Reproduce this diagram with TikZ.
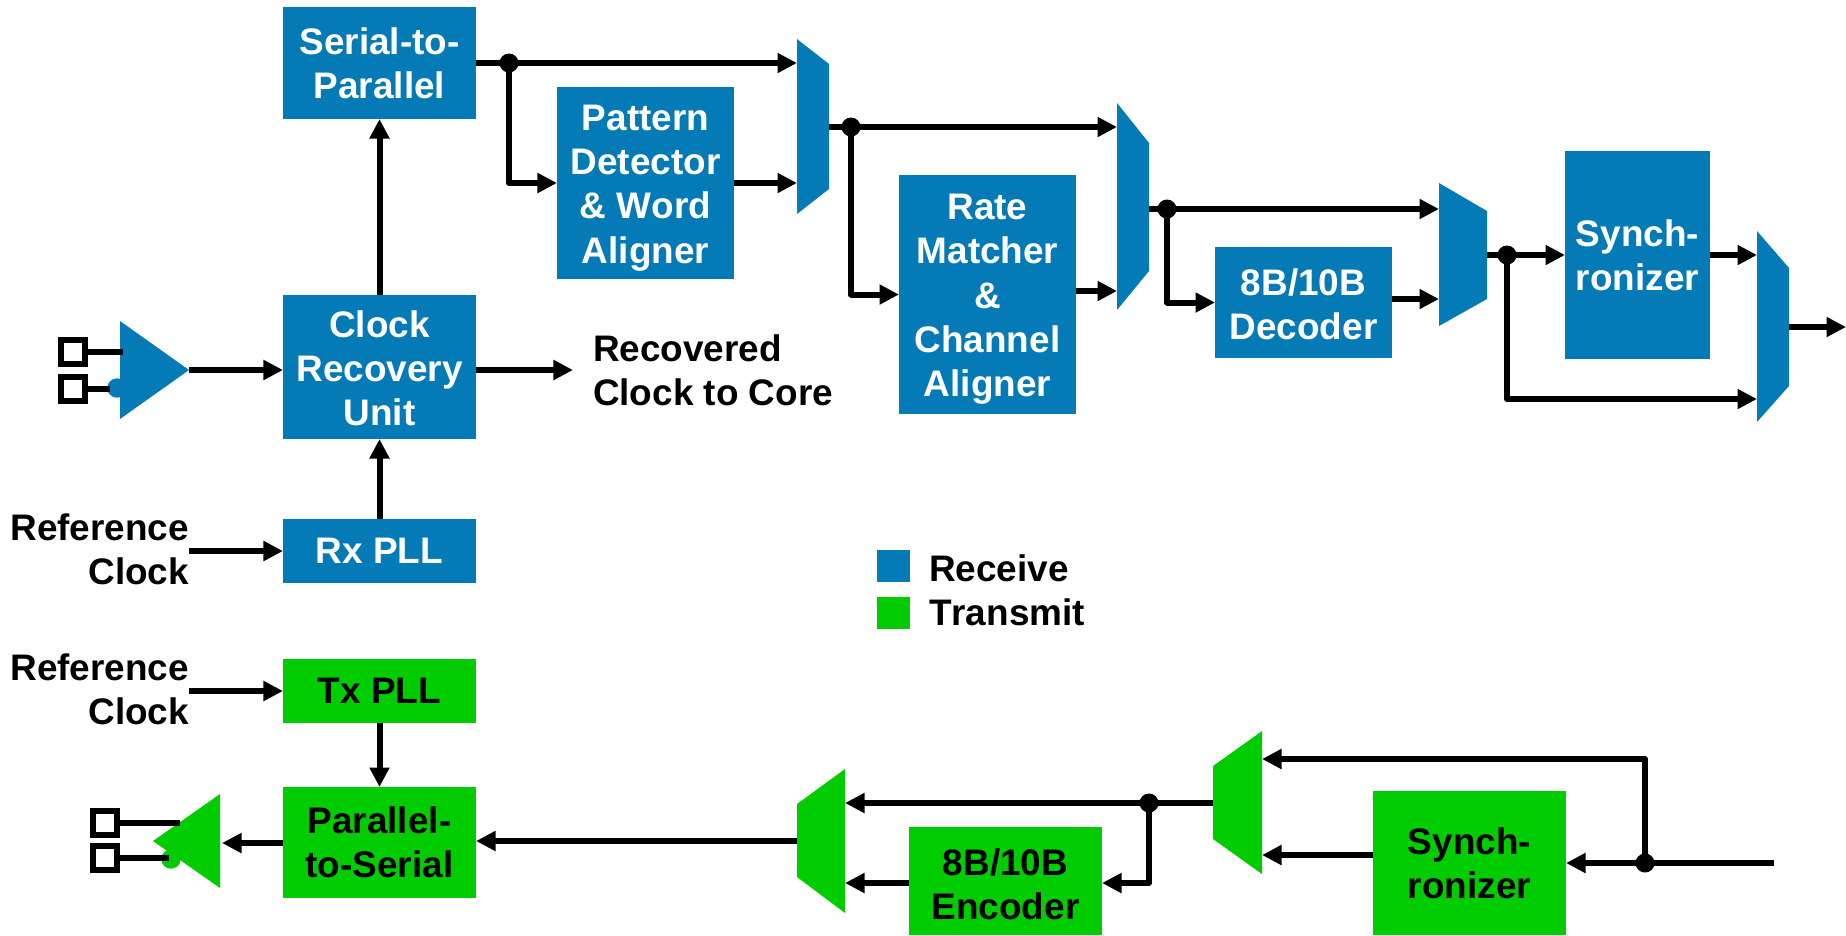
\documentclass[tikz,border=0pt]{standalone}
\usepackage{fontspec}
\setmainfont[Kerning=Off]{Liberation Sans}
\usetikzlibrary{arrows.meta}

\definecolor{rxblue}{HTML}{047AB6}
\definecolor{txgreen}{HTML}{00CC00}

\begin{document}
\begin{tikzpicture}[x=0.01cm,y=-0.01cm]
    \tikzset{boxsize/.style 2 args = {minimum width=#1*0.01cm,
        minimum height=#2*0.01cm},
      block/.style   = {inner sep=0pt, outer sep=0pt, align=center,
        font=\fontsize{10.5}{12.6}\selectfont\bfseries},
      rxbox/.style   = {block, fill=rxblue, text=white},
      txbox/.style   = {block, fill=txgreen, text=black},
      label/.style   = {block, text=black},
      wire/.style    = {line width=0.06cm, line join=round},
      sig/.style     = {wire, -{Triangle[length=0.195cm,width=0.19cm]}},
      dot/.style     = {circle, fill=black, inner sep=0pt, outer sep=0pt,
        minimum size=0.19cm},
      pad/.style     = {draw=black, fill=white, line width=0.06cm, inner sep=0pt,
        outer sep=0pt, minimum size=0.24cm}}

    \def\Lx{379.5};
    \def\Lw{193};
    % Taller first line, to lower the text in its block.
    \def\Drop#1{\rule{0pt}{#1pt}}

    \useasboundingbox (0,0) rectangle (1846,935);

    % Receive blocks.
    \node (serial)  [rxbox, boxsize={\Lw}{112}] at (\Lx,63)    {Serial-to-\\Parallel};
    \node (pattern) [rxbox, boxsize={177}{192}] at (645.5,183) {\Drop{10}Pattern\\Detector\\\& Word\\Aligner};
    \node (rate)    [rxbox, boxsize={177}{239}] at (987.5,294.5) {\Drop{10}Rate\\Matcher\\\&\\Channel\\Aligner};
    \node (decoder) [rxbox, boxsize={177}{111}] at (1303.5,302.5) {\Drop{8.8}8B/10B\\Decoder};
    \node (rxsync)  [rxbox, boxsize={145}{208}] at (1637.5,255)  {Synch-\\ronizer};
    \node (clock)   [rxbox, boxsize={\Lw}{144}] at (\Lx,367)   {\Drop{8.3}Clock\\Recovery\\Unit};
    \node (rxpll)   [rxbox, boxsize={\Lw}{64}]  at (\Lx,551)   {Rx PLL};

    % Transmit blocks.
    \node (txpll)    [txbox, boxsize={\Lw}{64}]  at (\Lx,691)   {Tx PLL};
    \node (parallel) [txbox, boxsize={\Lw}{111}] at (\Lx,842.5) {Parallel-\\to-Serial};
    \node (encoder)  [txbox, boxsize={193}{108}] at (1005.5,881) {\Drop{9.4}8B/10B\\Encoder};
    \node (txsync)   [txbox, boxsize={193}{144}] at (1469.5,863) {Synch-\\ronizer};

    % Text beside the blocks.
    \node (rcvtext) [label, anchor=west, align=left]  at (593,370) {Recovered\\Clock to Core};
    \node (rxref)   [label, anchor=east, align=right] at (189,549) {Reference\\Clock};
    \node (txref)   [label, anchor=east, align=right] at (189,689) {Reference\\Clock};

    % Legend.
    \node (rxkey)  [fill=rxblue, boxsize={33}{32}]   at (893.5,566) {};
    \node (txkey)  [fill=txgreen, boxsize={33}{32}]  at (893.5,613) {};
    \node (rxname) [label, anchor=west] at (929,568) {Receive};
    \node (txname) [label, anchor=west] at (929,612) {Transmit};

    % Muxes.
    \fill[rxblue] (797,39) -- (829,64) -- (829,189) -- (797,214) -- cycle;
    \fill[rxblue] (1117,103) -- (1149,143) -- (1149,271) -- (1117,310) -- cycle;
    \fill[rxblue] (1439,183) -- (1487,211) -- (1487,299) -- (1439,326) -- cycle;
    \fill[rxblue] (1757,231) -- (1789,268) -- (1789,386) -- (1757,422) -- cycle;
    \fill[txgreen] (797,804) -- (845,769) -- (845,913) -- (797,877) -- cycle;
    \fill[txgreen] (1213,766) -- (1262,731) -- (1262,874) -- (1213,839) -- cycle;

    % Amplifiers.
    \fill[rxblue] (120,321) -- (189,370) -- (120,419) -- cycle;
    \fill[rxblue] (117,388) circle (9.7);
    \fill[txgreen] (153,841) -- (220,794) -- (220,888) -- cycle;
    \fill[txgreen] (171,859) circle (9.7);

    % Mux and amplifier ports.
    \coordinate (muxAa) at (797,63);
    \coordinate (muxAb) at (797,183);
    \coordinate (muxAo) at (829,127);
    \coordinate (muxBa) at (1117,127);
    \coordinate (muxBb) at (1117,291);
    \coordinate (muxBo) at (1149,209);
    \coordinate (muxCa) at (1439,209);
    \coordinate (muxCb) at (1439,299);
    \coordinate (muxCo) at (1487,255);
    \coordinate (muxDa) at (1757,255);
    \coordinate (muxDb) at (1757,399);
    \coordinate (muxDo) at (1789,327);
    \coordinate (muxEa) at (845,803);
    \coordinate (muxEb) at (845,883);
    \coordinate (muxEo) at (797,841);
    \coordinate (muxFa) at (1262,759);
    \coordinate (muxFb) at (1262,855);
    \coordinate (muxFo) at (1213,803);
    \coordinate (rxamp) at (189,370);
    \coordinate (txamp) at (222,843);
    \coordinate (rcvtip) at (573,370);
    \coordinate (rxout) at (1846,327);
    \coordinate (txin) at (1774,863);

    % Branch points.
    \node (dotA) [dot] at (509,63)   {};
    \node (dotB) [dot] at (851,127)  {};
    \node (dotC) [dot] at (1167,209) {};
    \node (dotD) [dot] at (1507,255) {};
    \node (dotE) [dot] at (1149,803) {};
    \node (dotF) [dot] at (1645,863) {};

    % Receive path.
    \draw[sig] (serial.east) -- (muxAa);
    \draw[sig] (dotA.center) |- (pattern);
    \draw[sig] (pattern) -- (muxAb);
    \draw[wire] (muxAo) -- (dotB.center);
    \draw[sig] (dotB.center) -- (muxBa);
    \draw[sig] (dotB.center) |- (rate);
    \draw[sig] (rate.east |- muxBb) -- (muxBb);
    \draw[wire] (muxBo) -- (dotC.center);
    \draw[sig] (dotC.center) -- (muxCa);
    \draw[sig] (dotC.center) |- (decoder);
    \draw[sig] (decoder.east |- muxCb) -- (muxCb);
    \draw[wire] (muxCo) -- (dotD.center);
    \draw[sig] (dotD.center) -- (rxsync);
    \draw[sig] (dotD.center) |- (muxDb);
    \draw[sig] (rxsync) -- (muxDa);
    \draw[sig] (muxDo) -- (rxout);

    % Clock path.
    \draw[sig] (clock) -- (serial);
    \draw[sig] (rxpll) -- (clock);
    \draw[sig] (rxamp) -- (clock.west |- rxamp);
    \draw[sig] (clock.east |- rcvtip) -- (rcvtip);
    \draw[sig] (rxref.east |- rxpll) -- (rxpll);

    % Transmit path.
    \draw[sig] (txin) -- (txsync);
    \draw[sig] (dotF.center) |- (muxFa);
    \draw[sig] (txsync.west |- muxFb) -- (muxFb);
    \draw[sig] (muxFo) -- (muxEa);
    \draw[sig] (dotE.center) |- (encoder.east |- muxEb);
    \draw[sig] (encoder.west |- muxEb) -- (muxEb);
    \draw[sig] (muxEo) -- (parallel.east |- muxEo);
    \draw[sig] (parallel.west |- txamp) -- (txamp);
    \draw[sig] (txpll) -- (parallel);
    \draw[sig] (txref.east |- txpll) -- (txpll);

    % Pins of the amplifiers.
    \node (pinA) [pad] at (73,351.5) {};
    \node (pinB) [pad] at (73,389)   {};
    \node (pinC) [pad] at (105,823)  {};
    \node (pinD) [pad] at (105,858)  {};
    \coordinate (ampA) at (123,351);
    \coordinate (ampB) at (110,389);
    \coordinate (ampC) at (180,823);
    \coordinate (ampD) at (169,859);
    \draw[wire] (pinA) -- (pinA -| ampA);
    \draw[wire] (pinB) -- (pinB -| ampB);
    \draw[wire] (pinC) -- (pinC -| ampC);
    \draw[wire] (pinD) -- (pinD -| ampD);
\end{tikzpicture}
\end{document}
